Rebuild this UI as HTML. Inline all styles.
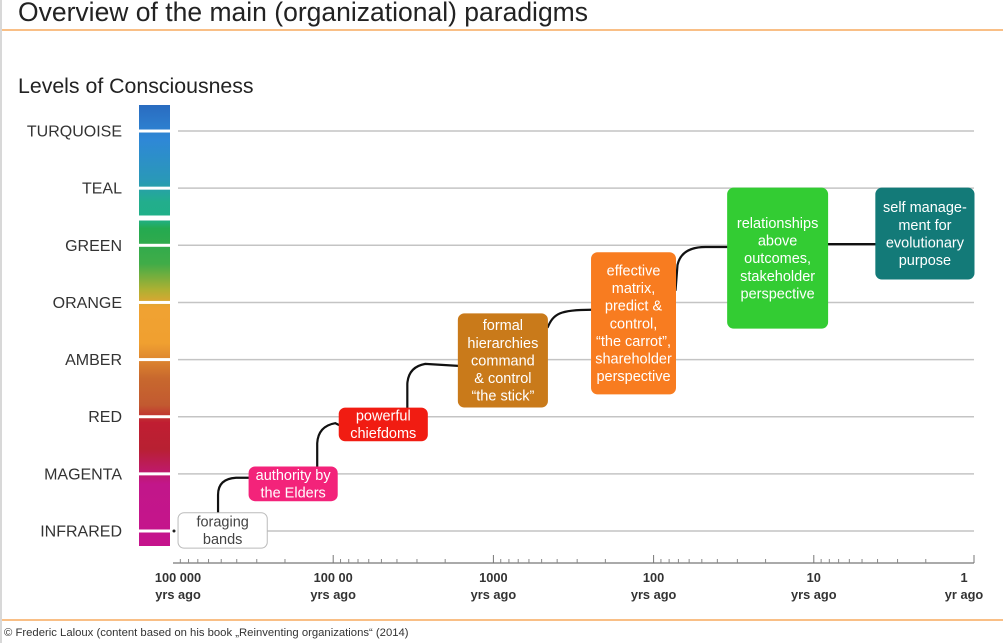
<!DOCTYPE html>
<html><head><meta charset="utf-8">
<style>
html,body{margin:0;padding:0;background:#fff;}
body{width:1003px;height:643px;overflow:hidden;position:relative;font-family:"Liberation Sans",sans-serif;}
#title{position:absolute;left:18px;top:-3px;font-size:26.5px;color:#222;white-space:nowrap;}
#subtitle{position:absolute;left:18px;top:74px;font-size:21.3px;color:#222;white-space:nowrap;}
#footer{position:absolute;left:4px;top:627px;font-size:11.3px;color:#333;white-space:nowrap;}
svg{position:absolute;left:0;top:0;}
</style></head>
<body>
<div id="title">Overview of the main (organizational) paradigms</div>
<div id="subtitle">Levels of Consciousness</div>
<div id="footer">© Frederic Laloux (content based on his book „Reinventing organizations“ (2014)</div>
<svg id="chart" width="1003" height="643">
<defs>
<linearGradient id="lvl" x1="0" y1="105" x2="0" y2="546" gradientUnits="userSpaceOnUse">
<stop offset="0" stop-color="#2a6cc0"/>
<stop offset="0.08" stop-color="#2e88d6"/>
<stop offset="0.17" stop-color="#2a98b8"/>
<stop offset="0.22" stop-color="#22ae8c"/>
<stop offset="0.26" stop-color="#20b088"/>
<stop offset="0.28" stop-color="#24aa50"/>
<stop offset="0.36" stop-color="#40ac48"/>
<stop offset="0.42" stop-color="#b0b032"/>
<stop offset="0.46" stop-color="#f0a232"/>
<stop offset="0.54" stop-color="#f0a030"/>
<stop offset="0.62" stop-color="#c8682e"/>
<stop offset="0.68" stop-color="#c25a30"/>
<stop offset="0.72" stop-color="#c01e32"/>
<stop offset="0.78" stop-color="#b82032"/>
<stop offset="0.86" stop-color="#c2168a"/>
<stop offset="1" stop-color="#c5148c"/>
</linearGradient>
</defs>
</svg>
<script>
const levels = ["INFRARED","MAGENTA","RED","AMBER","ORANGE","GREEN","TEAL","TURQUOISE"];
const tickYears = [100000, 10000, 1000, 100, 10, 1];
const tickLabels = ["100 000", "100 00", "1000", "100", "10", "1"];
const tickUnits = ["yrs ago","yrs ago","yrs ago","yrs ago","yrs ago","yr ago"];
const boxLabels = [
 ["foraging","bands"],
 ["authority by","the Elders"],
 ["powerful","chiefdoms"],
 ["formal","hierarchies","command","& control","“the stick”"],
 ["effective","matrix,","predict &","control,","“the carrot”,","shareholder","perspective"],
 ["relationships","above","outcomes,","stakeholder","perspective"],
 ["self manage-","ment for","evolutionary","purpose"]
];
const boxStartYears = [93000, 33500, 9170, 1655, 244, 34.5, 4.1];
const boxEndYears = [25800, 9440, 2585, 460, 73, 8.2, 1];
const boxTopLevels = [0.32, 1.12, 2.15, 3.80, 4.87, 6.00, 6.00];
const boxBottomLevels = [-0.30, 0.53, 1.58, 2.17, 2.40, 3.55, 4.41];
const boxColors = ["#ffffff","#f3237a","#f11c12","#c97a1a","#f87c20","#33cc33","#137a78"];

const svg = document.getElementById('chart');
const NS = 'http://www.w3.org/2000/svg';
const X0 = 173, DEC = 160.2;
function xScale(y){ return X0 + DEC*(5 - Math.log10(y)); }
function yScale(l){ return 531 - 57.14*l; }
function mk(tag, attrs, parent){ const e=document.createElementNS(NS,tag); for(const k in attrs) e.setAttribute(k,attrs[k]); (parent||svg).appendChild(e); return e; }

let r = mk('line',{x1:0,y1:30,x2:1003,y2:30,stroke:'#f9bf86','stroke-width':2});


r = mk('line',{x1:0,y1:620,x2:1003,y2:620,stroke:'#f9bf86','stroke-width':2});


r = mk('line',{x1:1,y1:0,x2:1,y2:643,stroke:'#d8d8d8','stroke-width':2});



const bar = mk('rect',{x:139,y:105,width:31,height:441,fill:'url(#lvl)'});


levels.forEach((lv,i)=>{
  const y=yScale(i);
  const gap = mk('rect',{x:138,y:y-1.5,width:33,height:3,fill:'#fff'});
  
  
  const g = mk('line',{x1:178,y1:y,x2:974,y2:y,stroke:'#c4c4c4','stroke-width':1.5});
  
  
  const t = mk('text',{x:122,y:y+5.5,'text-anchor':'end','font-size':16,fill:'#333','font-family':'Liberation Sans, sans-serif'});
  t.textContent=lv;
  
  
});
const gap2 = mk('rect',{x:138,y:215.5,width:33,height:5,fill:'#fff'});



const AY = 563;
const ax = mk('line',{x1:X0,y1:AY,x2:xScale(1),y2:AY,stroke:'#777','stroke-width':1.2});


tickYears.forEach((yr,i)=>{
  const x=xScale(yr);
  const tk = mk('line',{x1:x,y1:AY,x2:x,y2:AY-(i===0?0:8),stroke:'#777','stroke-width':1});
  
  
  if(i<tickYears.length-1){
    for(let n=9;n>=2;n--){
      const mx=xScale(yr/10*n);
      const m = mk('line',{x1:mx,y1:AY,x2:mx,y2:AY-4,stroke:'#888','stroke-width':1});
      
      
    }
  }
  const lx = i===0? x+5 : (i===5? x-10 : x);
  const t1 = mk('text',{x:lx,y:582,'text-anchor':'middle','font-size':12.8,'font-weight':'bold',fill:'#333','font-family':'Liberation Sans, sans-serif'});
  t1.textContent=tickLabels[i];
  
  
  const t2 = mk('text',{x:lx,y:599,'text-anchor':'middle','font-size':12.8,'font-weight':'bold',fill:'#333','font-family':'Liberation Sans, sans-serif'});
  t2.textContent=tickUnits[i];
  
  
});
const dot = mk('circle',{cx:174,cy:yScale(0),r:1.5,fill:'#222'});



function box(i){ return {x1:xScale(boxStartYears[i]),x2:xScale(boxEndYears[i]),y1:yScale(boxTopLevels[i]),y2:yScale(boxBottomLevels[i])}; }
for(let i=0;i<boxLabels.length-1;i++){
  const a=box(i), b=box(i+1);
  let d;
  if(i===0){ const sx=a.x1+40, cy=b.y2-22; d=`M${sx},${a.y1} L${sx},${cy+16} Q${sx},${cy} ${sx+18},${cy-1} L${b.x1},${cy-1}`; }
  else if(i===5){ const y=yScale(5.02); d=`M${a.x2},${y} L${b.x1},${y}`; }
  else if(i===3){ const cy=b.y1+57; d=`M${a.x2},${a.y1+14} C${a.x2+6},${cy+4} ${a.x2+12},${cy} ${b.x1},${cy}`; }
  else if(i===4){ const cy=yScale(4.97); d=`M${a.x2},${a.y1+38} L${a.x2+2},${cy+18} Q${a.x2+6},${cy} ${a.x2+30},${cy} L${b.x1},${cy}`; }
  else { const sx=a.x2-20; const cy = i===1? b.y1+17 : b.y1+52; d=`M${sx},${a.y1} L${sx},${cy+18} Q${sx+1},${cy+1} ${sx+18},${cy-2} L${b.x1},${cy}`; }
  const p = mk('path',{d:d,fill:'none',stroke:'#111','stroke-width':2.2});
  
  
}

boxLabels.forEach((lines,i)=>{
  const b=box(i);
  const rc = mk('rect',{x:b.x1,y:b.y1,width:b.x2-b.x1,height:b.y2-b.y1,rx:6,fill:boxColors[i],stroke:i===0?'#bbb':boxColors[i],'stroke-width':1});
  
  
  const lh=17.6;
  const cy=(b.y1+b.y2)/2 - (lines.length-1)*lh/2 + 5;
  lines.forEach((ln,j)=>{
    const t = mk('text',{x:(b.x1+b.x2)/2,y:cy+j*lh,'text-anchor':'middle','font-size':14.5,fill:i===0?'#444':'#fff','font-family':'Liberation Sans, sans-serif'});
    t.textContent=ln;
    
    
  });
});
</script>
</body></html>
